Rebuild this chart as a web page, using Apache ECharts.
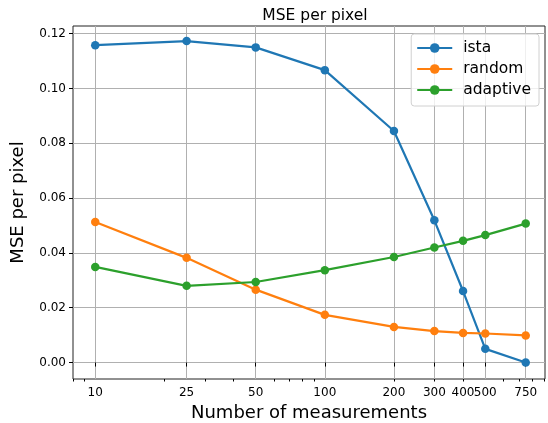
<!DOCTYPE html>
<html><head><meta charset="utf-8">
<script src="https://cdn.jsdelivr.net/npm/echarts@6/dist/echarts.min.js"></script>
<style>html,body{margin:0;padding:0;background:#fff}#c{width:548px;height:423px}</style>
</head><body><div id="c"></div>
<script>
const measurements = [10, 25, 50, 100, 200, 300, 400, 500, 750];
const ista = [0.1158, 0.1173, 0.1150, 0.1067, 0.0845, 0.0519, 0.0261, 0.0050, 0.0000];
const random = [0.0513, 0.0382, 0.0266, 0.0174, 0.0130, 0.0115, 0.0108, 0.0106, 0.0099];
const adaptive = [0.0349, 0.0280, 0.0294, 0.0337, 0.0385, 0.0420, 0.0444, 0.0465, 0.0507];
const yTicks = [0, 0.02, 0.04, 0.06, 0.08, 0.10, 0.12];
const xMinorTicks = [8, 9, 20, 30, 40, 60, 70, 80, 90, 200, 300, 400, 600, 700, 800, 900];

const font = 'DejaVu Sans';
const chart = echarts.init(document.getElementById('c'), null, {renderer: 'canvas'});
function mk(name, vals, color) {
  return {
    name, type: 'line', data: measurements.map((m, i) => [m, vals[i]]),
    itemStyle: {color}, lineStyle: {color, width: 2.2},
    symbol: 'circle', symbolSize: 8.5, showSymbol: true, animation: false,
    emphasis: {disabled: true}
  };
}
chart.setOption({
  animation: false,
  title: {text: 'MSE per pixel', left: 310, top: 3, textAlign: 'center',
    textStyle: {fontFamily: font, fontSize: 15.5, fontWeight: 'normal', color: '#000'}},
  grid: {left: 73, top: 26, right: 3, bottom: 44, show: true, borderColor: '#222', borderWidth: 1,
    containLabel: false, outerBoundsMode: 'none'},
  legend: {
    right: 9, top: 34, orient: 'vertical', itemWidth: 35, itemHeight: 12, itemGap: 5,
    padding: [6, 8, 8, 5], borderColor: '#d0d0d0', borderWidth: 1, borderRadius: 3,
    backgroundColor: 'rgba(255,255,255,0.8)',
    textStyle: {fontFamily: font, fontSize: 15.5, lineHeight: 12, color: '#000', padding: [0, 0, 0, 6]},
    data: ['ista', 'random', 'adaptive']
  },
  xAxis: [{
    type: 'log', logBase: 10, min: 8, max: 910,
    name: 'Number of measurements', nameLocation: 'middle', nameGap: 25,
    nameTextStyle: {fontFamily: font, fontSize: 18, color: '#000', verticalAlign: 'top'},
    axisLine: {show: false},
    axisTick: {show: true, inside: false, length: 4, lineStyle: {color: '#000'}, customValues: measurements},
    axisLabel: {fontFamily: font, fontSize: 12, color: '#000', margin: 8, customValues: measurements, formatter: v => String(v)},
    splitLine: {show: true, lineStyle: {color: '#b0b0b0', width: 1}},
    minorTick: {show: false}, minorSplitLine: {show: false}
  }, {
    type: 'log', logBase: 10, min: 8, max: 910, position: 'bottom',
    axisLine: {show: false},
    axisTick: {show: true, length: 2.5, lineStyle: {color: '#000'}, customValues: xMinorTicks},
    axisLabel: {show: false},
    splitLine: {show: false}
  }],
  yAxis: {
    type: 'value', min: -0.006, max: 0.1228,
    name: 'MSE per pixel', nameLocation: 'middle', nameGap: 46, nameRotate: 90,
    nameTextStyle: {fontFamily: font, fontSize: 18, color: '#000'},
    axisLine: {show: false},
    axisTick: {show: true, length: 4, lineStyle: {color: '#000'}, customValues: yTicks},
    axisLabel: {fontFamily: font, fontSize: 12, color: '#000', margin: 7, customValues: yTicks, formatter: v => v.toFixed(2)},
    splitLine: {show: true, lineStyle: {color: '#b0b0b0', width: 1}}
  },
  series: [mk('ista', ista, '#1f77b4'), mk('random', random, '#ff7f0e'), mk('adaptive', adaptive, '#2ca02c')]
});
</script></body></html>
